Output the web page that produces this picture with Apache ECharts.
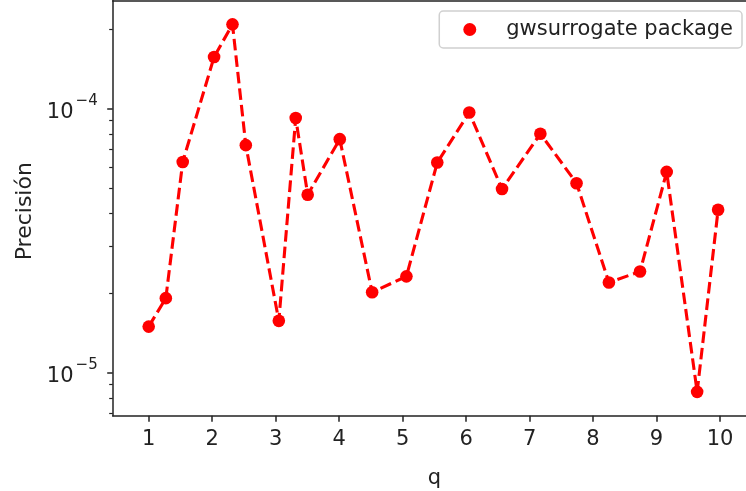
<!DOCTYPE html>
<html><head><meta charset="utf-8">
<script src="https://cdn.jsdelivr.net/npm/echarts@6/dist/echarts.min.js"></script>
<style>html,body{margin:0;padding:0;background:#fff}#c{width:746px;height:491px}</style>
</head><body><div id="c"></div>
<script>
const qValues = [1.0, 1.27, 1.536, 2.03, 2.32, 2.53, 3.05, 3.316, 3.505, 4.01, 4.52, 5.06, 5.546, 6.05, 6.566, 7.17, 7.74, 8.25, 8.74, 9.16, 9.64, 9.97];
const precision = [1.49e-5, 1.91e-5, 6.27e-5, 1.567e-4, 2.084e-4, 7.26e-5, 1.567e-5, 9.2e-5, 4.71e-5, 7.65e-5, 2.01e-5, 2.31e-5, 6.24e-5, 9.66e-5, 4.95e-5, 8.02e-5, 5.21e-5, 2.19e-5, 2.41e-5, 5.75e-5, 8.43e-6, 4.13e-5];
const xTicks = [1, 2, 3, 4, 5, 6, 7, 8, 9, 10];
const yMajorTicks = [1e-5, 1e-4];
const yMinorTicks = [7e-6, 8e-6, 9e-6, 2e-5, 3e-5, 4e-5, 5e-5, 6e-5, 7e-5, 8e-5, 9e-5, 2e-4];
const seriesName = 'gwsurrogate package';
const xLabel = 'q';
const yLabel = 'Precisión';

const FONT = 'DejaVu Sans';
const TXT = '#222';
const AX = '#222';
const pts = qValues.map((q, i) => [q, precision[i]]);

const chart = echarts.init(document.getElementById('c'), null, {renderer: 'canvas'});
chart.setOption({
  animation: false,
  backgroundColor: '#fff',
  grid: {left: 112.7, width: 643.3, top: 0.7, height: 415, containLabel: false, outerBoundsMode: 'none'},
  legend: {
    right: 4, top: 11,
    data: [{name: seriesName, icon: 'circle'}],
    itemWidth: 13, itemHeight: 13,
    padding: [8, 9, 8, 24],
    borderColor: '#d0d0d0', borderWidth: 1.5, borderRadius: 4,
    backgroundColor: '#fff',
    textStyle: {fontFamily: FONT, fontSize: 21, color: TXT, padding: [0, 0, 0, 25], lineHeight: 21}
  },
  xAxis: [{
    type: 'value', min: 0.433, max: 10.567, position: 'bottom',
    axisLine: {show: true, onZero: false, lineStyle: {color: AX, width: 1.5}},
    axisTick: {show: true, customValues: xTicks, length: 6, lineStyle: {color: AX, width: 1.5}},
    axisLabel: {customValues: xTicks, margin: 13, fontFamily: FONT, fontSize: 21, color: TXT},
    splitLine: {show: false},
    name: xLabel, nameLocation: 'middle', nameGap: 52,
    nameTextStyle: {fontFamily: FONT, fontSize: 21, color: TXT}
  }, {
    type: 'value', min: 0.433, max: 10.567, position: 'top',
    axisLine: {show: true, onZero: false, lineStyle: {color: AX, width: 1.5}},
    axisTick: {show: false}, axisLabel: {show: false}, splitLine: {show: false}
  }],
  yAxis: [{
    type: 'log', logBase: 10, min: 6.846e-6, max: 2.562e-4, position: 'left',
    axisLine: {show: true, onZero: false, lineStyle: {color: AX, width: 1.5}},
    axisTick: {show: true, customValues: yMajorTicks, length: 5.5, lineStyle: {color: AX, width: 1.5}},
    axisLabel: {
      customValues: yMajorTicks, margin: 15,
      formatter: v => '{b|10}{s|\u2212' + Math.abs(Math.round(Math.log10(v))) + '}',
      rich: {
        b: {fontFamily: FONT, fontSize: 21, color: TXT, lineHeight: 29, verticalAlign: 'bottom'},
        s: {fontFamily: FONT, fontSize: 15, color: TXT, lineHeight: 15, verticalAlign: 'top', padding: [0, 0, 0, 2]}
      }
    },
    splitLine: {show: false},
    name: yLabel, nameLocation: 'middle', nameGap: 74, nameRotate: 90,
    nameTextStyle: {fontFamily: FONT, fontSize: 22, color: TXT, padding: [0, 6, 0, 0]}
  }, {
    type: 'log', logBase: 10, min: 6.846e-6, max: 2.562e-4, position: 'left',
    axisLine: {show: false},
    axisTick: {show: true, customValues: yMinorTicks, length: 3.5, lineStyle: {color: AX, width: 1.2}},
    axisLabel: {show: false}, splitLine: {show: false}
  }],
  series: [{
    type: 'line', name: 'dashed', data: pts, xAxisIndex: 0, yAxisIndex: 0,
    showSymbol: false, symbol: 'none', silent: true,
    lineStyle: {color: '#ff0000', width: 3.1, type: [11.6, 5]}, z: 2
  }, {
    type: 'scatter', name: seriesName, data: pts, xAxisIndex: 0, yAxisIndex: 0,
    symbol: 'circle', symbolSize: 12.6, itemStyle: {color: '#ff0000', opacity: 1}, z: 3
  }]
});
</script>
</body></html>
